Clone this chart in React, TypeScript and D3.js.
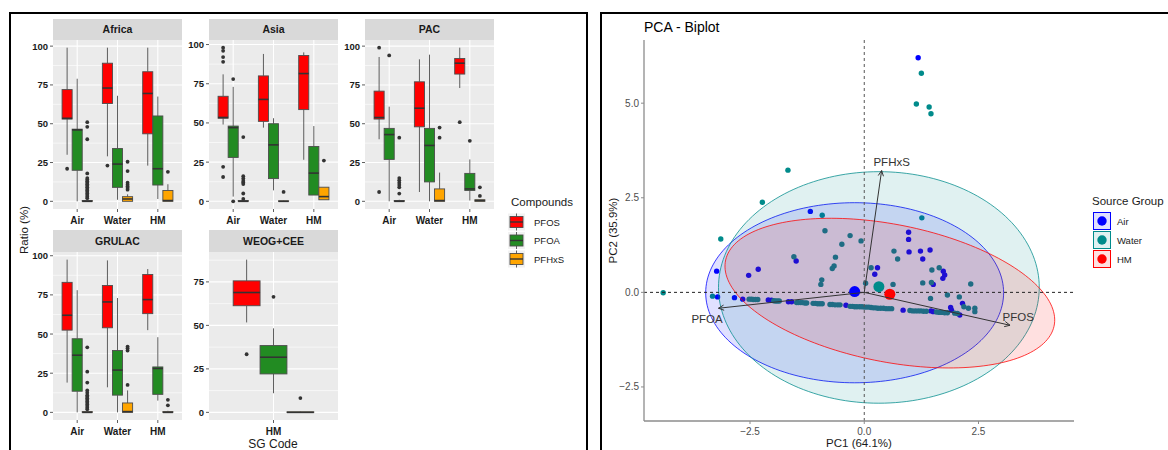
import React from "react";
import * as d3 from "d3";

const FONT = "'Liberation Sans', Arial, Helvetica, sans-serif";

// ---------------- Box plot data ----------------
const regions = ["Africa", "Asia", "PAC", "GRULAC", "WEOG+CEE"];
const sourceGroups = ["Air", "Water", "HM"];
const compounds = ["PFOS", "PFOA", "PFHxS"];
const compoundColors = ["#FF0000", "#228B22", "#FFA500"];
const ratioTicks = [0, 25, 50, 75, 100];
const ratioMinorTicks = [12.5, 37.5, 62.5, 87.5];

// region, source, compound, lower whisker, q1, median, q3, upper whisker
const boxStats: [string, string, string, number, number, number, number, number][] = [
  ["Africa", "Air", "PFOS", 30, 53, 53.5, 72, 99],
  ["Africa", "Air", "PFOA", 0, 20, 46, 46.5, 79],
  ["Africa", "Air", "PFHxS", 0, 0, 0, 0.5, 1],
  ["Africa", "Water", "PFOS", 29, 63, 73, 89, 99],
  ["Africa", "Water", "PFOA", 1, 9, 24, 34, 68],
  ["Africa", "Water", "PFHxS", 0, 0, 1.5, 3, 4.5],
  ["Africa", "HM", "PFOS", 23, 43.5, 69.5, 83.5, 99],
  ["Africa", "HM", "PFOA", 1.5, 10.5, 21, 55, 67.5],
  ["Africa", "HM", "PFHxS", 0, 0, 0.5, 7, 11],
  ["Asia", "Air", "PFOS", 49, 53, 53.5, 67, 81],
  ["Asia", "Air", "PFOA", 3, 28, 47, 48, 73],
  ["Asia", "Air", "PFHxS", 0, 0, 0, 0.5, 1],
  ["Asia", "Water", "PFOS", 47, 51, 65, 80, 94],
  ["Asia", "Water", "PFOA", 7, 14.5, 36, 49.5, 53],
  ["Asia", "Water", "PFHxS", 0, 0, 0, 0.3, 0.5],
  ["Asia", "HM", "PFOS", 26.5, 58.5, 81.5, 93, 95],
  ["Asia", "HM", "PFOA", 4, 4, 18, 35, 48],
  ["Asia", "HM", "PFHxS", 1, 1, 3, 9, 9],
  ["PAC", "Air", "PFOS", 40, 53, 54, 71, 93],
  ["PAC", "Air", "PFOA", 0, 27, 43, 47, 61],
  ["PAC", "Air", "PFHxS", 0, 0, 0, 0.5, 1],
  ["PAC", "Water", "PFOS", 6, 48, 60, 77, 91.5],
  ["PAC", "Water", "PFOA", 0, 12.5, 36, 47, 94.5],
  ["PAC", "Water", "PFHxS", 0, 0, 0.5, 8, 18.5],
  ["PAC", "HM", "PFOS", 73, 82, 89, 92, 99],
  ["PAC", "HM", "PFOA", 0.5, 7, 8, 18, 27],
  ["PAC", "HM", "PFHxS", 0, 0, 0.5, 1, 1],
  ["GRULAC", "Air", "PFOS", 19, 52.5, 62, 83, 97.5],
  ["GRULAC", "Air", "PFOA", 0, 13.5, 36.5, 47, 78],
  ["GRULAC", "Air", "PFHxS", 0, 0, 0, 0.5, 1],
  ["GRULAC", "Water", "PFOS", 16, 54, 70.5, 81, 97],
  ["GRULAC", "Water", "PFOA", 0, 11, 27, 39.5, 73],
  ["GRULAC", "Water", "PFHxS", 0, 0, 0.5, 6, 14],
  ["GRULAC", "HM", "PFOS", 52.5, 63, 72, 88, 91.5],
  ["GRULAC", "HM", "PFOA", 7.5, 11.5, 28, 29, 48],
  ["GRULAC", "HM", "PFHxS", 0, 0, 0, 0.5, 1],
  ["WEOG+CEE", "HM", "PFOS", 51.7, 61.3, 68.9, 75.6, 87.8],
  ["WEOG+CEE", "HM", "PFOA", 11, 22.1, 31.7, 38.4, 48.3],
  ["WEOG+CEE", "HM", "PFHxS", 0, 0, 0, 0.3, 0.5],
];

const boxOutliers: [string, string, string, number[]][] = [
  ["Africa", "Air", "PFOS", [21]],
  ["Africa", "Air", "PFHxS", [51, 48, 40, 18, 15, 14, 13, 12, 11, 10, 9, 8, 7, 6, 5, 4, 3, 2]],
  ["Africa", "Water", "PFOS", [23]],
  ["Africa", "Water", "PFHxS", [25.5, 19.5, 12, 10.7, 9.6, 8.6, 7.5]],
  ["Africa", "HM", "PFHxS", [19]],
  ["Asia", "Air", "PFOS", [98, 96, 92, 89, 22, 15.5]],
  ["Asia", "Air", "PFOA", [78, 0]],
  ["Asia", "Air", "PFHxS", [41, 16, 14.5, 13, 12, 11, 5, 1.5]],
  ["Asia", "Water", "PFHxS", [6]],
  ["Asia", "HM", "PFHxS", [26]],
  ["PAC", "Air", "PFOS", [99, 6]],
  ["PAC", "Air", "PFOA", [94]],
  ["PAC", "Air", "PFHxS", [41, 15, 13.5, 12, 10.5, 9, 5]],
  ["PAC", "Water", "PFHxS", [47.5, 41]],
  ["PAC", "HM", "PFOS", [51]],
  ["PAC", "HM", "PFOA", [39]],
  ["PAC", "HM", "PFHxS", [9, 3.5]],
  ["GRULAC", "Air", "PFHxS", [41.5, 26, 19, 14, 12.5, 11, 10, 9, 8, 7, 6, 5, 4, 3, 2]],
  ["GRULAC", "Water", "PFHxS", [42, 41, 39.5, 17.5]],
  ["GRULAC", "HM", "PFHxS", [8, 4.5]],
  ["WEOG+CEE", "HM", "PFOS", [33.4]],
  ["WEOG+CEE", "HM", "PFOA", [66.4]],
  ["WEOG+CEE", "HM", "PFHxS", [8.2]],
];

// ---------------- PCA data ----------------
const pcaGroups = ["Air", "Water", "HM"];
const pcaColors = ["#0000FF", "#008B8B", "#FF0000"];
const pcTicksX = [-2.5, 0, 2.5];
const pcTicksY = [-2.5, 0, 2.5, 5];

const airScores: [number, number][] = [
  [1.18, 6.2], [-1.18, 2.14], [0.97, 1.59], [0.97, 1.4], [0.98, 1.07], [1.23, 1.09],
  [1.44, 1.12], [1.28, 0.88], [1.51, 0.21], [-1.49, 0.83], [-2.32, 0.61], [-2.53, 0.45],
  [-3.23, 0.56], [0.29, 0.65], [0.23, 0.48], [1.73, 0.56], [1.76, 0.46], [1.72, 0.37],
  [-3.21, -0.12], [-2.84, -0.14], [-2.66, -0.18], [-2.1, -0.2], [-2.03, -0.21], [-1.66, -0.25],
  [-1.59, -0.25], [-0.4, -0.34], [0.85, -0.47], [1.46, -0.49], [1.51, -0.51], [1.89, -0.4],
  [1.91, -0.47], [2.09, -0.6], [2.15, -0.29],
];

const waterScores: [number, number][] = [
  [1.25, 5.79], [1.14, 4.98], [1.42, 4.9], [1.46, 4.72], [-1.67, 3.23], [-2.23, 2.38],
  [-0.92, 2.04], [-3.14, 1.41], [1.26, 1.97], [-0.86, 1.63], [-0.31, 1.5], [-0.07, 1.36],
  [-0.49, 1.27], [0.65, 1.09], [0.73, 0.88], [1.48, 0.59], [1.64, 0.65], [1.28, 0.25],
  [1.47, 0.26], [-1.54, 0.94], [-0.63, 0.93], [-0.66, 0.7], [-0.7, 0.63], [-0.93, 0.33],
  [-0.95, 0.21], [0.15, 0.65], [0.03, 0.24], [0.63, 0.21], [2.33, 0.22], [1.45, -0.16],
  [1.82, -0.07], [2.08, -0.12], [-4.4, -0.01],
  [-3.32, -0.1], [-2.52, -0.18], [-2.47, -0.18], [-2.43, -0.19], [-2.38, -0.19], [-2.33, -0.19],
  [-1.98, -0.22], [-1.94, -0.23], [-1.9, -0.23], [-1.86, -0.23], [-1.48, -0.27], [-1.44, -0.27],
  [-1.39, -0.27], [-1.35, -0.27], [-1.3, -0.28], [-1.26, -0.28], [-1.12, -0.29], [-1.07, -0.29],
  [-1.02, -0.3], [-0.97, -0.3], [-0.92, -0.3], [-0.75, -0.32], [-0.7, -0.32], [-0.64, -0.33],
  [-0.58, -0.33], [-0.53, -0.33], [-0.31, -0.37], [-0.26, -0.37], [-0.21, -0.38], [-0.16, -0.38],
  [-0.1, -0.38], [-0.05, -0.38], [0.0, -0.39], [0.05, -0.39], [0.1, -0.39], [0.15, -0.4],
  [0.2, -0.41], [0.25, -0.41], [0.3, -0.42], [0.36, -0.42], [0.42, -0.42], [0.48, -0.43],
  [0.54, -0.43], [0.6, -0.43], [1.0, -0.48], [1.06, -0.49], [1.12, -0.49], [1.18, -0.49],
  [1.24, -0.49], [1.3, -0.5], [1.36, -0.5], [1.58, -0.52], [1.64, -0.53], [1.7, -0.53],
  [1.76, -0.54], [1.82, -0.54], [1.98, -0.55], [2.04, -0.56], [2.18, -0.38], [2.28, -0.42],
  [2.42, -0.42], [2.42, -0.51],
];

const groupMeans: [number, number][] = [[-0.21, 0.02], [0.32, 0.15], [0.56, -0.05]];
// cx, cy, semi-axis a, semi-axis b, rotation (deg)
const groupEllipses: [number, number, number, number, number][] = [
  [-0.21, -0.01, 3.26, 2.38, 0],
  [0.32, 0.13, 3.51, 3.06, 0],
  [0.56, -0.02, 3.7, 1.8, -14.7],
];
// name, x, y, label x, label y
const loadings: [string, number, number, number, number][] = [
  ["PFOS", 3.19, -0.87, 3.37, -0.65],
  ["PFOA", -3.19, -0.42, -3.44, -0.71],
  ["PFHxS", 0.38, 3.22, 0.6, 3.45],
];

// ---------------- Components ----------------
function Facet({ region, idx }: { region: string; idx: number }) {
  const col = idx % 3;
  const row = Math.floor(idx / 3);
  const px = 53 + col * 156;
  const pw = 129;
  const stripTop = row === 0 ? 19 : 230;
  const pTop = row === 0 ? 40 : 252;
  const pBot = row === 0 ? 209 : 420;
  const rows = boxStats.filter((r) => r[0] === region);
  const outs = boxOutliers.filter((r) => r[0] === region);
  const cats = sourceGroups.filter((s) => rows.some((r) => r[1] === s));
  const vals: number[] = [];
  rows.forEach((r) => vals.push(r[3], r[7]));
  outs.forEach((o) => vals.push(...o[3]));
  const [mn, mx] = d3.extent(vals) as [number, number];
  const pad = (mx - mn) * 0.05;
  const y = d3.scaleLinear().domain([mn - pad, mx + pad]).range([pBot, pTop]);
  const x = d3.scaleLinear().domain([0.4, cats.length + 0.6]).range([px, px + pw]);
  const [d0, d1] = y.domain();
  const majors = ratioTicks.filter((t) => t >= d0 && t <= d1);
  const minors = ratioMinorTicks.filter((t) => t >= d0 && t <= d1);
  const pos = (src: string, cmp: string) =>
    cats.indexOf(src) + 1 + (compounds.indexOf(cmp) - 1) * 0.25;
  const hw = 0.125;
  return (
    <g>
      <rect x={px} y={stripTop} width={pw} height={pTop - stripTop} fill="#D9D9D9" />
      <text x={px + pw / 2} y={(stripTop + pTop) / 2 + 3.8} textAnchor="middle" fontSize={10.5} fontWeight="bold" fill="#1A1A1A">
        {region}
      </text>
      <rect x={px} y={pTop} width={pw} height={pBot - pTop} fill="#EBEBEB" />
      {minors.map((t) => (
        <line key={"mi" + t} x1={px} x2={px + pw} y1={y(t)} y2={y(t)} stroke="#FFFFFF" strokeWidth={0.6} />
      ))}
      {majors.map((t) => (
        <line key={"ma" + t} x1={px} x2={px + pw} y1={y(t)} y2={y(t)} stroke="#FFFFFF" strokeWidth={1.1} />
      ))}
      {cats.map((c, i) => (
        <line key={"v" + c} x1={x(i + 1)} x2={x(i + 1)} y1={pTop} y2={pBot} stroke="#FFFFFF" strokeWidth={1.1} />
      ))}
      {rows.map((r, i) => {
        const c = pos(r[1], r[2]);
        const color = compoundColors[compounds.indexOf(r[2])];
        const xl = x(c - hw);
        const xr = x(c + hw);
        const xc = x(c);
        return (
          <g key={"b" + i}>
            <line x1={xc} x2={xc} y1={y(r[7])} y2={y(r[6])} stroke="#4D4D4D" strokeWidth={0.9} />
            <line x1={xc} x2={xc} y1={y(r[4])} y2={y(r[3])} stroke="#4D4D4D" strokeWidth={0.9} />
            <rect x={xl} y={y(r[6])} width={xr - xl} height={Math.max(0.01, y(r[4]) - y(r[6]))} fill={color} stroke="#4D4D4D" strokeWidth={0.9} />
            <line x1={xl} x2={xr} y1={y(r[5])} y2={y(r[5])} stroke="#333333" strokeWidth={1.6} />
          </g>
        );
      })}
      {outs.map((o, i) =>
        o[3].map((v, j) => (
          <circle key={"o" + i + "_" + j} cx={x(pos(o[1], o[2]))} cy={y(v)} r={1.9} fill="#333333" />
        ))
      )}
      {majors.map((t) => (
        <g key={"yt" + t}>
          <line x1={px - 3} x2={px} y1={y(t)} y2={y(t)} stroke="#333333" strokeWidth={0.8} />
          <text x={px - 5} y={y(t) + 3.5} textAnchor="end" fontSize={9.5} fontWeight="bold" fill="#1A1A1A">
            {t}
          </text>
        </g>
      ))}
      {cats.map((c, i) => (
        <g key={"xt" + c}>
          <line x1={x(i + 1)} x2={x(i + 1)} y1={pBot} y2={pBot + 3} stroke="#333333" strokeWidth={0.8} />
          <text x={x(i + 1)} y={pBot + 15} textAnchor="middle" fontSize={10} fontWeight="bold" fill="#1A1A1A">
            {c}
          </text>
        </g>
      ))}
    </g>
  );
}

function BoxLegend() {
  const x0 = 508;
  return (
    <g>
      <text x={511} y={206} fontSize={11.5} fill="#1A1A1A">Compounds</text>
      {compounds.map((c, i) => {
        const cy = 222 + i * 18.5;
        return (
          <g key={c}>
            <rect x={x0} y={cy - 8.5} width={17} height={17} fill="#F2F2F2" />
            <line x1={x0 + 8.5} x2={x0 + 8.5} y1={cy - 8.5} y2={cy + 8.5} stroke="#4D4D4D" strokeWidth={0.9} />
            <rect x={x0 + 2} y={cy - 5.5} width={13} height={11} fill={compoundColors[i]} stroke="#4D4D4D" strokeWidth={0.9} />
            <line x1={x0 + 2} x2={x0 + 15} y1={cy} y2={cy} stroke="#333333" strokeWidth={1.4} />
            <text x={534} y={cy + 3.5} fontSize={9.5} fill="#1A1A1A">{c}</text>
          </g>
        );
      })}
    </g>
  );
}

function ellipsePath(e: [number, number, number, number, number], xs: any, ys: any) {
  const [cx, cy, a, b, deg] = e;
  const th = (deg * Math.PI) / 180;
  const ts = d3.range(0, 2 * Math.PI, Math.PI / 90);
  const pts = ts.map((t) => [
    xs(cx + a * Math.cos(t) * Math.cos(th) - b * Math.sin(t) * Math.sin(th)),
    ys(cy + a * Math.cos(t) * Math.sin(th) + b * Math.sin(t) * Math.cos(th)),
  ]);
  return (d3.line().curve(d3.curveLinearClosed)(pts as [number, number][]) || "");
}

function Biplot() {
  const L = 644, R = 1074, T = 40, B = 421;
  const xs = d3.scaleLinear().domain([-4.82, 4.59]).range([L, R]);
  const ys = d3.scaleLinear().domain([-3.4, 6.67]).range([B, T]);
  const scores = [airScores, waterScores, [] as [number, number][]];
  const ox = xs(0), oy = ys(0);
  return (
    <g>
      <text x={644} y={32} fontSize={14} fill="#000">PCA - Biplot</text>
      {/* points */}
      {scores.map((pts, g) =>
        pts.map((p, i) => (
          <circle key={g + "_" + i} cx={xs(p[0])} cy={ys(p[1])} r={2.7} fill={pcaColors[g]} />
        ))
      )}
      {/* ellipses */}
      {groupEllipses.map((e, g) => (
        <path key={"e" + g} d={ellipsePath(e, xs, ys)} fill={pcaColors[g]} fillOpacity={0.12} stroke={pcaColors[g]} strokeWidth={0.9} strokeOpacity={0.85} />
      ))}
      {/* reference lines */}
      <line x1={ox} x2={ox} y1={T} y2={B} stroke="#555" strokeWidth={1} strokeDasharray="3,3" />
      <line x1={L} x2={R} y1={oy} y2={oy} stroke="#222" strokeWidth={1} strokeDasharray="3,3" />
      {/* group means */}
      {groupMeans.map((m, g) => (
        <circle key={"m" + g} cx={xs(m[0])} cy={ys(m[1])} r={5.5} fill={pcaColors[g]} />
      ))}
      {/* loadings */}
      {loadings.map((l) => {
        const x2 = xs(l[1]), y2 = ys(l[2]);
        const ang = Math.atan2(y2 - oy, x2 - ox);
        const len = 6, sp = Math.PI / 7;
        const a1 = [x2 - len * Math.cos(ang - sp), y2 - len * Math.sin(ang - sp)];
        const a2 = [x2 - len * Math.cos(ang + sp), y2 - len * Math.sin(ang + sp)];
        return (
          <g key={l[0]}>
            <line x1={ox} y1={oy} x2={x2} y2={y2} stroke="#333" strokeWidth={1} />
            <polyline points={`${a1[0]},${a1[1]} ${x2},${y2} ${a2[0]},${a2[1]}`} fill="none" stroke="#333" strokeWidth={1} />
            <text x={xs(l[3])} y={ys(l[4]) + 4} textAnchor="middle" fontSize={11.5} fill="#333">{l[0]}</text>
          </g>
        );
      })}
      {/* axes */}
      <line x1={L} x2={L} y1={T} y2={B} stroke="#8C8C8C" strokeWidth={1.3} />
      <line x1={L} x2={R} y1={B} y2={B} stroke="#8C8C8C" strokeWidth={1.3} />
      {pcTicksY.map((t) => (
        <g key={"py" + t}>
          <line x1={L - 3} x2={L} y1={ys(t)} y2={ys(t)} stroke="#8C8C8C" />
          <text x={L - 5} y={ys(t) + 3.5} textAnchor="end" fontSize={10} fill="#4D4D4D">{d3.format(".1f")(t)}</text>
        </g>
      ))}
      {pcTicksX.map((t) => (
        <g key={"px" + t}>
          <line x1={xs(t)} x2={xs(t)} y1={B} y2={B + 3} stroke="#8C8C8C" />
          <text x={xs(t)} y={B + 14} textAnchor="middle" fontSize={10} fill="#4D4D4D">{d3.format(".1f")(t)}</text>
        </g>
      ))}
      <text x={(L + R) / 2} y={447} textAnchor="middle" fontSize={11.5} fill="#1A1A1A">PC1 (64.1%)</text>
      <text transform={`translate(617,${(T + B) / 2}) rotate(-90)`} textAnchor="middle" fontSize={11.5} fill="#1A1A1A">PC2 (35.9%)</text>
      {/* legend */}
      <text x={1092} y={205} fontSize={11.5} fill="#1A1A1A">Source Group</text>
      {pcaGroups.map((g, i) => {
        const cy = 221 + i * 19;
        return (
          <g key={g}>
            <rect x={1093.5} y={cy - 8.5} width={17} height={17} fill={pcaColors[i]} fillOpacity={0.12} stroke={pcaColors[i]} strokeWidth={1} />
            <circle cx={1102} cy={cy} r={4.7} fill={pcaColors[i]} />
            <text x={1117} y={cy + 3.5} fontSize={9.5} fill="#1A1A1A">{g}</text>
          </g>
        );
      })}
    </g>
  );
}

export default function App() {
  return (
    <div style={{ position: "fixed", left: 0, top: 0 }}>
      <svg width={1168} height={450} fontFamily={FONT} style={{ display: "block", background: "#FFFFFF" }}>
        <rect x={0} y={0} width={1168} height={450} fill="#FFFFFF" />
        {/* left frame */}
        <rect x={10} y={13} width={577} height={460} fill="none" stroke="#000" strokeWidth={2} />
        {regions.map((r, i) => (
          <Facet key={r} region={r} idx={i} />
        ))}
        <BoxLegend />
        <text transform="translate(28,230) rotate(-90)" textAnchor="middle" fontSize={11.5} fill="#1A1A1A">Ratio (%)</text>
        <text x={273} y={448} textAnchor="middle" fontSize={12} fill="#1A1A1A">SG Code</text>
        {/* right frame */}
        <rect x={601} y={13} width={600} height={460} fill="none" stroke="#000" strokeWidth={2} />
        <Biplot />
      </svg>
    </div>
  );
}
